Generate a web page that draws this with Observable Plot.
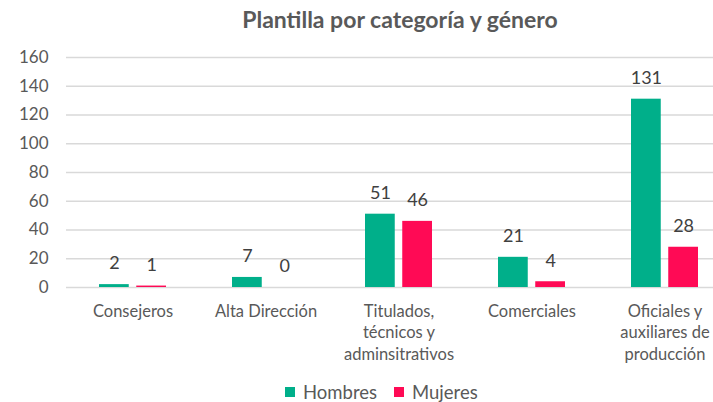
<!DOCTYPE html>
<html>
<head>
<meta charset="utf-8">
<script src="https://cdn.jsdelivr.net/npm/d3@7"></script>
<script src="https://cdn.jsdelivr.net/npm/@observablehq/plot@0.6"></script>
<style>
  html, body { margin: 0; padding: 0; background: #fff; overflow: hidden; }
  #wrap { position: relative; width: 713px; height: 402px; overflow: hidden; font-family: Lato, "Open Sans", sans-serif; }
  #title { position: absolute; left: 0; top: 5px; width: 800px; text-align: center; font-weight: bold; font-size: 23px; color: #595959; }
  #chart { position: absolute; left: 0; top: 40px; width: 732px; }
  #chart svg { max-width: none !important; width: 732px; height: 335px; }
  #legend { position: absolute; left: 285px; top: 381px; display: flex; align-items: center; font-size: 18.5px; color: #595959; line-height: 22px; }
  .item { display: flex; align-items: center; margin-right: 17px; }
  .sw { width: 10px; height: 10px; margin-right: 8px; }
</style>
</head>
<body>
<div id="wrap">
  <div id="title">Plantilla por categoría y género</div>
  <div id="chart"></div>
  <div id="legend"></div>
</div>
<script>
const categories = ["Consejeros", "Alta Dirección", "Titulados, técnicos y adminsitrativos", "Comerciales", "Oficiales y auxiliares de producción"];
const categoryLabels = ["Consejeros", "Alta Dirección", "Titulados,\ntécnicos y\nadminsitrativos", "Comerciales", "Oficiales y\nauxiliares de\nproducción"];
const hombres = [2, 7, 51, 21, 131];
const mujeres = [1, 0, 46, 4, 28];
const seriesNames = ["Hombres", "Mujeres"];
const seriesColors = ["#00AF8A", "#FF0A55"];
const yTicks = [0, 20, 40, 60, 80, 100, 120, 140, 160];

const dataH = categories.map((c, i) => ({category: c, value: hombres[i]}));
const dataM = categories.map((c, i) => ({category: c, value: mujeres[i]}));
const labelMap = new Map(categories.map((c, i) => [c, categoryLabels[i]]));

const inset = 37.25;
const shift = 18.6;

const chart = Plot.plot({
  width: 732,
  height: 335,
  marginLeft: 66,
  marginRight: 1,
  marginTop: 17,
  marginBottom: 88,
  style: {fontFamily: "Lato, 'Open Sans', sans-serif", fontSize: "17px", color: "#595959", background: "transparent", maxWidth: "none"},
  x: {domain: categories, paddingInner: 0.5, paddingOuter: 0.25, label: null},
  y: {domain: [0, 160], label: null},
  marks: [
    Plot.ruleY(yTicks, {stroke: "#d9d9d9", strokeWidth: 1.3}),
    Plot.axisY({ticks: yTicks, tickSize: 0, tickPadding: 18, label: null, fill: "#595959", fontSize: 17}),
    Plot.axisX({tickSize: 0, tickPadding: 14, label: null, fill: "#595959", fontSize: 16.5, lineHeight: 1.3, tickFormat: d => labelMap.get(d)}),
    Plot.barY(dataH, {x: "category", y: "value", fill: seriesColors[0], insetRight: inset}),
    Plot.barY(dataM, {x: "category", y: "value", fill: seriesColors[1], insetLeft: inset}),
    Plot.text(dataH, {x: "category", y: "value", text: d => String(d.value), dx: -shift, dy: -21, fill: "#404040", fontSize: 18}),
    Plot.text(dataM, {x: "category", y: "value", text: d => String(d.value), dx: shift, dy: -21, fill: "#404040", fontSize: 18})
  ]
});
document.getElementById("chart").appendChild(chart);

const legend = document.getElementById("legend");
seriesNames.forEach((name, i) => {
  const item = document.createElement("div");
  item.className = "item";
  const sw = document.createElement("div");
  sw.className = "sw";
  sw.style.background = seriesColors[i];
  const label = document.createElement("span");
  label.textContent = name;
  item.appendChild(sw);
  item.appendChild(label);
  legend.appendChild(item);
});
</script>
</body>
</html>
